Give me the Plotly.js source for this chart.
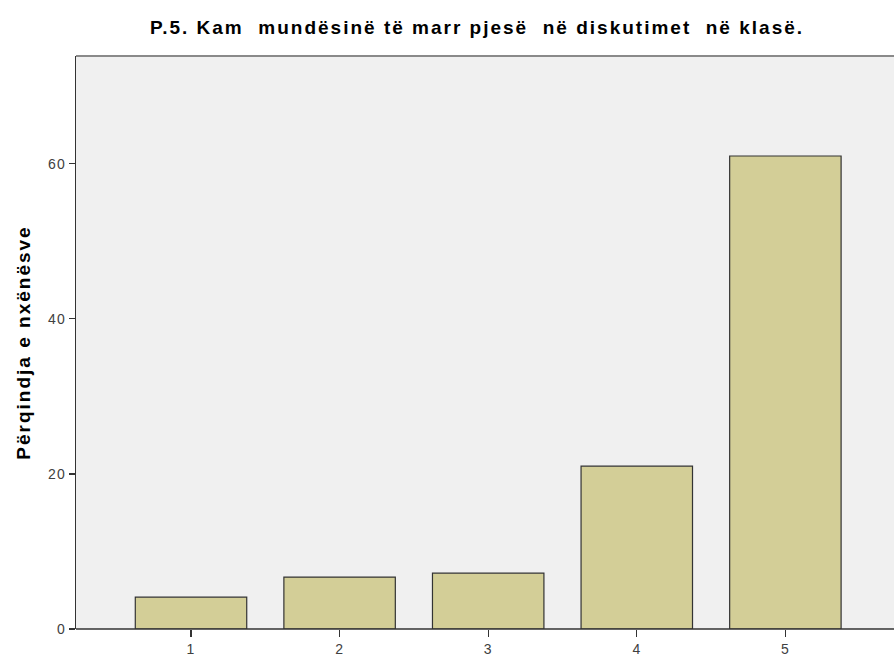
<!DOCTYPE html>
<html>
<head>
<meta charset="utf-8">
<script src="https://cdn.plot.ly/plotly-3.0.1.min.js"></script>
<style>
html,body{margin:0;padding:0;background:#fff;}
#chart{width:894px;height:660px;}
#chart .gtitle{letter-spacing:2px;}
#chart .ytitle{letter-spacing:2px;}
#chart .xtick text, #chart .ytick text{letter-spacing:1px;}
</style>
</head>
<body>
<div id="chart"></div>
<script>
const categories = [1, 2, 3, 4, 5];
const percentages = [4.1, 6.7, 7.2, 21.0, 61.0];
const tickLabels = ["1", "2", "3", "4", "5"];
const yTicks = [0, 20, 40, 60];
const titleText = "P.5. Kam  mundësinë të marr pjesë  në diskutimet  në klasë.";
const yTitle = "Përqindja e nxënësve";

const trace = {
  type: "bar",
  x: categories,
  y: percentages,
  width: 0.75,
  marker: {color: "#D3CE97", line: {color: "#333333", width: 1.2}},
  hoverinfo: "x+y"
};

const layout = {
  width: 894, height: 660,
  margin: {l: 76, r: 0, t: 56, b: 31},
  paper_bgcolor: "#ffffff",
  plot_bgcolor: "#F0F0F0",
  font: {family: "Liberation Sans, Arial, sans-serif", color: "#222"},
  title: {text: titleText, font: {size: 19, color: "#000", family: "Liberation Sans, Arial, sans-serif", weight: "bold"},
          x: (477 - 76) / 818, xref: "paper", xanchor: "center", y: 1 - 27/660, yanchor: "middle"},
  showlegend: false,
  xaxis: {
    range: [0.226, 5.731], tickvals: categories, ticktext: tickLabels,
    showgrid: false, zeroline: false, showline: false,
    ticks: "outside", ticklen: 7, tickcolor: "#333", tickwidth: 1.2,
    tickfont: {size: 14, color: "#404040"}
  },
  yaxis: {
    range: [0, 73.9], tickvals: yTicks,
    showgrid: false, zeroline: false,
    showline: true, linecolor: "#333", linewidth: 1.5,
    ticks: "outside", ticklen: 6, tickcolor: "#333", tickwidth: 1.2,
    tickfont: {size: 14, color: "#404040"},
    title: {text: yTitle, font: {size: 19, color: "#000", weight: "bold"}, standoff: 14}
  },
  shapes: [
    {type: "line", xref: "paper", yref: "paper", x0: 0, x1: 1, y0: 1, y1: 1, line: {color: "#8a8a8a", width: 2}},
    {type: "line", xref: "paper", yref: "paper", x0: 0, x1: 1, y0: 0, y1: 0, line: {color: "#333", width: 1.5}}
  ]
};

Plotly.newPlot("chart", [trace], layout, {displayModeBar: false, staticPlot: true});
</script>
</body>
</html>
